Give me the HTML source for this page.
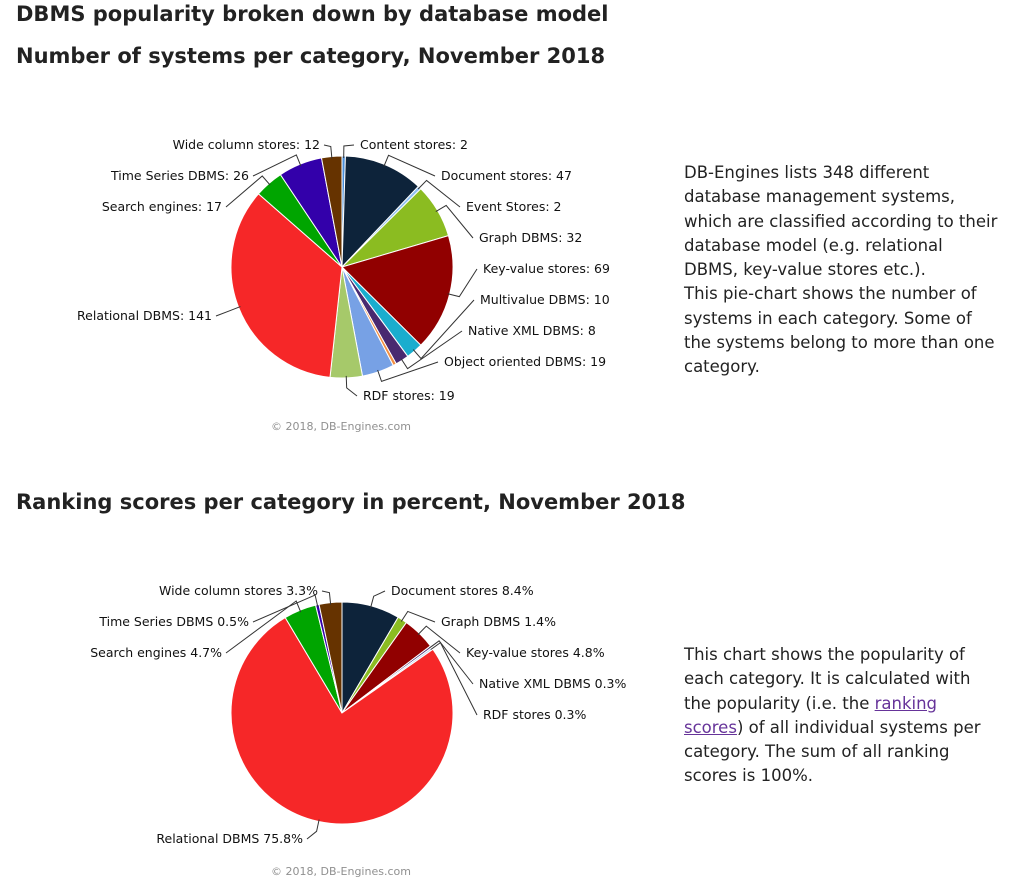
<!DOCTYPE html>
<html><head><meta charset="utf-8"><style>
body{margin:0;width:1028px;height:894px;background:#fff;font-family:"DejaVu Sans","Liberation Sans",sans-serif;color:#222;position:relative;overflow:hidden}
.t{position:absolute;left:16px;font-weight:bold;font-size:21px;white-space:nowrap;margin:0}
.desc{position:absolute;left:684px;font-size:16.5px;line-height:24.3px;width:344px;color:#222;white-space:nowrap}
.desc a{color:#663399}
svg{position:absolute;left:0;top:0}
</style></head><body>
<h1 class="t" style="top:2px">DBMS popularity broken down by database model</h1>
<h2 class="t" style="top:44px">Number of systems per category, November 2018</h2>
<h2 class="t" style="top:490px">Ranking scores per category in percent, November 2018</h2>
<div class="desc" style="top:161px">DB-Engines lists 348 different<br>database management systems,<br>which are classified according to their<br>database model (e.g. relational<br>DBMS, key-value stores etc.).<br>This pie-chart shows the number of<br>systems in each category. Some of<br>the systems belong to more than one<br>category.</div>
<div class="desc" style="top:643px">This chart shows the popularity of<br>each category. It is calculated with<br>the popularity (i.e. the <a href="#">ranking<br>scores</a>) of all individual systems per<br>category. The sum of all ranking<br>scores is 100%.</div>
<svg id="s" width="1028" height="894"></svg>
<script>
const cats1=["Content stores","Document stores","Event Stores","Graph DBMS","Key-value stores","Multivalue DBMS","Native XML DBMS","Navigational DBMS","Object oriented DBMS","RDF stores","Relational DBMS","Search engines","Time Series DBMS","Wide column stores"];
const vals1=[2,47,2,32,69,10,8,2,19,19,141,17,26,12];
const cats2=["Document stores","Graph DBMS","Key-value stores","Native XML DBMS","RDF stores","Relational DBMS","Search engines","Time Series DBMS","Wide column stores"];
const vals2=[8.4,1.4,4.8,0.3,0.3,75.8,4.7,0.5,3.3];
const colors1=["#4b8fd9","#0d233a","#90c0f0","#8bbc21","#910000","#1aadce","#492970","#f28f43","#77a1e5","#a6c96a","#f62728","#00a500","#3300aa","#663300"];
const colors2=["#0d233a","#8bbc21","#910000","#492970","#c0d8f0","#f62728","#00a500","#3300aa","#663300"];
// label anchor layout (not data)
const lay1=[[358,149,0],[439,180,0],[464,211,0],[477,242,0],[481,273,0],[478,304,0],[466,335,0],null,[442,366,0],[361,400,0],[212,320,1],[222,211,1],[249,180,1],[320,149,1]];
const lay2=[[389,595,0],[439,626,0],[464,657,0],[477,688,0],[481,719,0],[303,843,1],[222,657,1],[249,626,1],[318,595,1]];
const NS="http://www.w3.org/2000/svg";
const svg=document.getElementById('s');
function mk(t,a){const e=document.createElementNS(NS,t);for(const k in a)e.setAttribute(k,a[k]);svg.appendChild(e);return e;}
function pie(cx,cy,r,cats,vals,cols,lay,fmt,id){
  const tot=vals.reduce((a,b)=>a+b,0);let a0=0;
  vals.forEach((v,i)=>{
    const a1=a0+v/tot*2*Math.PI;
    const p=(a)=>[cx+r*Math.sin(a),cy-r*Math.cos(a)];
    const [x0,y0]=p(a0),[x1,y1]=p(a1);
    const path=mk('path',{d:`M${cx},${cy}L${x0},${y0}A${r},${r} 0 ${a1-a0>Math.PI?1:0} 1 ${x1},${y1}Z`,fill:cols[i],stroke:'#fff','stroke-width':1});
    
    
    const L=lay[i];
    if(L){
      const m=(a0+a1)/2;
      const ex=cx+(r-2)*Math.sin(m),ey=cy-(r-2)*Math.cos(m);
      const ox=cx+(r+10)*Math.sin(m),oy=cy-(r+10)*Math.cos(m);
      const tx=L[2]?L[0]+4:L[0]-4,ty=L[1]-4;
      const ln=mk('path',{d:`M${ex},${ey}L${ox},${oy}L${tx},${ty}`,fill:'none',stroke:'#333','stroke-width':1});
      
      
      const t=mk('text',{x:L[2]?L[0]:L[0]+2,y:L[1],'font-size':12.5,fill:'#111','text-anchor':L[2]?'end':'start','font-family':'DejaVu Sans,sans-serif'});
      t.textContent=fmt(cats[i],v);
      
      
    }
    a0=a1;
  });
}
pie(342,267,111,cats1,vals1,colors1,lay1,(c,v)=>c+': '+v,'chart1');
pie(342,713,111,cats2,vals2,colors2,lay2,(c,v)=>c+' '+v+'%','chart2');
[[426,'chart1-credits'],[871,'chart2-credits']].forEach(([y,n])=>{
  const t=mk('text',{x:341,y:y+4,'font-size':11,fill:'#909090','text-anchor':'middle','font-family':'DejaVu Sans,sans-serif'});
  t.textContent='© 2018, DB-Engines.com';
  
  
});
</script>
</body></html>
